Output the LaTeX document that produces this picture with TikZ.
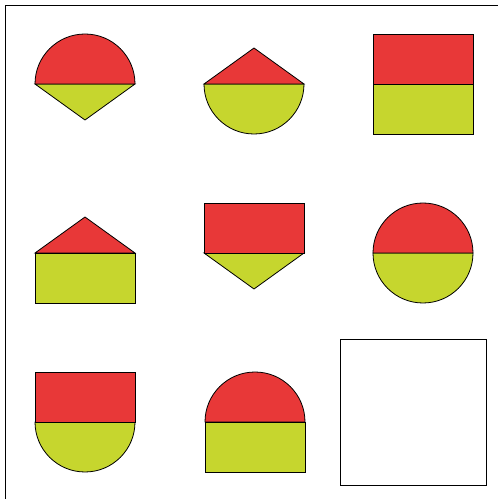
\documentclass[tikz,border=0pt]{standalone}
\definecolor{topred}{HTML}{E83838}
\definecolor{botgreen}{HTML}{C6D62E}
\tikzset{
  redpart/.style={fill=topred,draw=black,line width=0.8pt,line join=miter},
  greenpart/.style={fill=botgreen,draw=black,line width=0.8pt,line join=miter},
  topsemi/.pic={\filldraw[redpart] (-50,0) arc (180:0:50) -- cycle;},
  toptri/.pic={\filldraw[redpart] (-50,0) -- (0,36) -- (50,0) -- cycle;},
  toprect/.pic={\filldraw[redpart] (-50,0) rectangle (50,50);},
  botsemi/.pic={\filldraw[greenpart] (-50,0) arc (180:360:50) -- cycle;},
  bottri/.pic={\filldraw[greenpart] (-50,0) -- (0,-36) -- (50,0) -- cycle;},
  botrect/.pic={\filldraw[greenpart] (-50,0) rectangle (50,-50);},
  framestyle/.style={draw=black,line width=0.8pt}
}
\begin{document}
\begin{tikzpicture}[x=1pt,y=1pt]
\useasboundingbox (0,0) rectangle (498,499);
\fill[white] (0,0) rectangle (498,499);
% outer frame (left and top only visible)
\draw[framestyle] (5,0) -- (5,494) -- (498,494);
% row 1
\pic at (85,415) {bottri};   \pic at (85,415) {topsemi};
\pic at (254,415) {botsemi}; \pic at (254,415) {toptri};
\pic at (423,415) {botrect}; \pic at (423,415) {toprect};
% row 2
\pic at (85,246) {botrect};  \pic at (85,246) {toptri};
\pic at (254,246) {bottri};  \pic at (254,246) {toprect};
\pic at (423,246) {botsemi}; \pic at (423,246) {topsemi};
% row 3
\pic at (85,77) {botsemi};   \pic at (85,77) {toprect};
\pic at (255,77) {botrect};  \pic at (255,77) {topsemi};
% empty answer box
\draw[framestyle] (340,14) rectangle (486,160);
\end{tikzpicture}
\end{document}
